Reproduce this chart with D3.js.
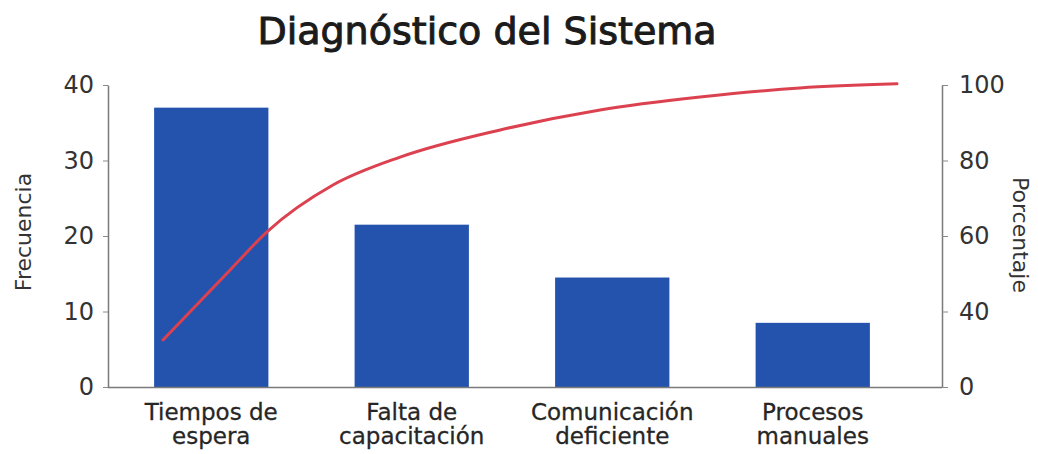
<!DOCTYPE html>
<html>
<head>
<meta charset="utf-8">
<script src="https://cdn.jsdelivr.net/npm/d3@7"></script>
<style>
  body { margin: 0; background: #fff; }
  svg { display: block; }
</style>
</head>
<body>
<div id="chart"></div>
<script>
// data
var categories = [["Tiempos de", "espera"], ["Falta de", "capacitación"], ["Comunicación", "deficiente"], ["Procesos", "manuales"]];
var frequency = [37, 21.5, 14.5, 8.5];
// cumulative curve: position in category units (0 = first bar centre) and percent
var curvePos = [-0.240, 0.094, 0.278, 0.607, 0.942, 1.441, 1.939, 2.438, 2.936, 3.420];
var curvePct = [32.5, 51.0, 61.1, 73.5, 80.9, 88.1, 93.4, 96.8, 99.2, 100.3];
var freqTicks = [0, 10, 20, 30, 40];
var pctTickValues = [20, 40, 60, 80, 100];
var pctTickLabels = ["0", "40", "60", "80", "100"];

var width = 1038, height = 454;
var plotLeft = 108, plotRight = 942, plotTop = 85, plotBottom = 387;
var font = "DejaVu Sans";

var svg = d3.select("#chart").append("svg")
    .attr("width", width)
    .attr("height", height);

var x = d3.scaleBand()
    .domain(d3.range(categories.length))
    .range([110, 914])
    .paddingInner(0.43)
    .paddingOuter(0.22);

var yFreq = d3.scaleLinear().domain([0, 40]).range([plotBottom, plotTop]);
var yPct = d3.scaleLinear().domain([20, 100]).range([plotBottom, plotTop]);

var xCurve = d3.scaleLinear()
    .domain([0, categories.length - 1])
    .range([x(0) + x.bandwidth() / 2, x(categories.length - 1) + x.bandwidth() / 2]);

//title
svg.append("text")
    .attr("x", 487)
    .attr("y", 44)
    .attr("text-anchor", "middle")
    .style("font-family", font)
    .style("font-size", "38px")
    .style("fill", "#1b1b1b")
    .style("stroke", "#1b1b1b")
    .style("stroke-width", "1px")
    .text("Diagnóstico del Sistema");

//bars
svg.selectAll(".bar").data(frequency).enter().append("rect")
    .attr("class", "bar")
    .attr("x", function (d, i) { return x(i); })
    .attr("y", function (d) { return yFreq(d); })
    .attr("width", x.bandwidth())
    .attr("height", function (d) { return yFreq(0) - yFreq(d); })
    .attr("fill", "#2453ae");

//axes
var leftAxis = svg.append("g")
    .attr("transform", "translate(" + plotLeft + ",0)")
    .call(d3.axisLeft(yFreq).tickValues(freqTicks).tickSize(5).tickSizeOuter(0));

var rightAxis = svg.append("g")
    .attr("transform", "translate(" + plotRight + ",0)")
    .call(d3.axisRight(yPct).tickValues(pctTickValues).tickSize(6).tickSizeOuter(0)
        .tickFormat(function (d, i) { return pctTickLabels[i]; }));

svg.append("line")
    .attr("x1", plotLeft)
    .attr("x2", plotRight)
    .attr("y1", plotBottom + 0.5)
    .attr("y2", plotBottom + 0.5)
    .style("stroke", "#7a7a7a")
    .style("stroke-width", 1.5);

[leftAxis, rightAxis].forEach(function (g) {
    g.select(".domain").style("stroke", "#7a7a7a").style("stroke-width", 1.5);
    g.selectAll(".tick line").style("stroke", "#8a8a8a");
    g.selectAll(".tick text")
        .style("font-family", font)
        .style("font-size", "24px")
        .style("fill", "#333");
});
leftAxis.selectAll(".tick text").attr("x", -14);
rightAxis.selectAll(".tick text").attr("x", 17);

//category labels
var labels = svg.selectAll(".cat").data(categories).enter().append("text")
    .attr("class", "cat")
    .attr("text-anchor", "middle")
    .style("font-family", font)
    .style("font-size", "23px")
    .style("fill", "#262626")
    .style("stroke", "#262626")
    .style("stroke-width", "0.3px");
labels.each(function (d, i) {
    var t = d3.select(this);
    var cx = x(i) + x.bandwidth() / 2;
    t.append("tspan").attr("x", cx).attr("y", 420).text(d[0]);
    t.append("tspan").attr("x", cx).attr("y", 444).text(d[1]);
});

//axis titles
svg.append("text")
    .attr("transform", "translate(31,232) rotate(-90)")
    .attr("text-anchor", "middle")
    .style("font-family", font)
    .style("font-size", "22px")
    .style("fill", "#333")
    .text("Frecuencia");

svg.append("text")
    .attr("transform", "translate(1013,235) rotate(90)")
    .attr("text-anchor", "middle")
    .style("font-family", font)
    .style("font-size", "22px")
    .style("fill", "#333")
    .text("Porcentaje");

//cumulative line
var line = d3.line()
    .x(function (d) { return xCurve(d[0]); })
    .y(function (d) { return yPct(d[1]); })
    .curve(d3.curveMonotoneX);

svg.append("path")
    .datum(d3.zip(curvePos, curvePct))
    .attr("d", line)
    .style("fill", "none")
    .style("stroke", "#dc4150")
    .style("stroke-width", 3)
    .style("stroke-linecap", "round");
</script>
</body>
</html>
